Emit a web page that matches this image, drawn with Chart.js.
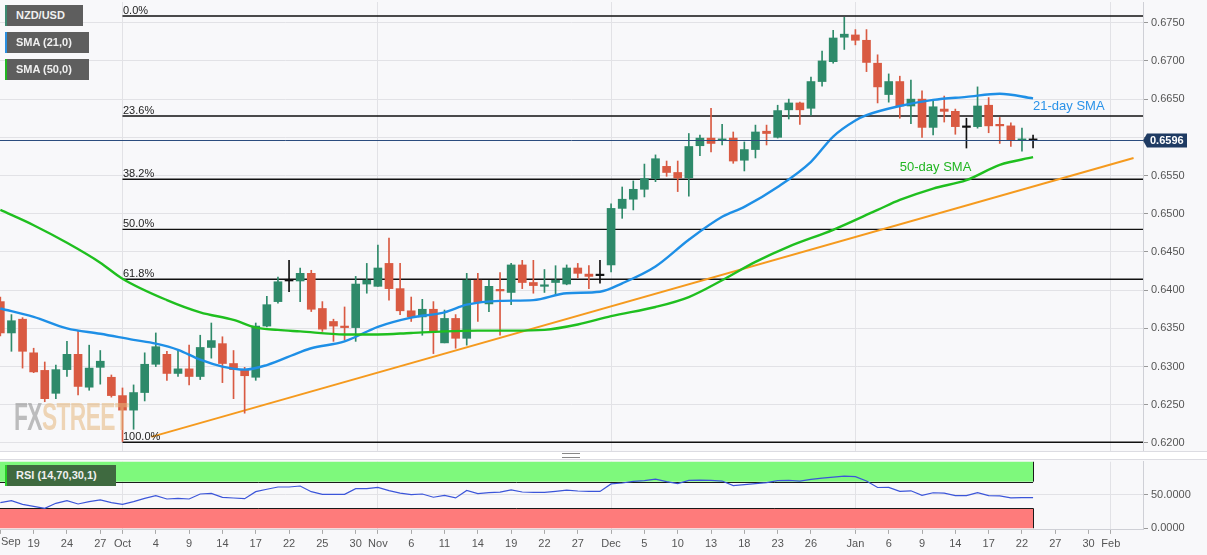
<!DOCTYPE html>
<html><head><meta charset="utf-8">
<script src="https://cdn.jsdelivr.net/npm/chart.js@4.4.1/dist/chart.umd.min.js"></script>
<style>
html,body{margin:0;padding:0;background:#f8f8fa;}
body{width:1207px;height:555px;position:relative;overflow:hidden;font-family:"Liberation Sans",Arial,sans-serif;}
canvas{position:absolute;left:0;}
#main{top:0;}
#rsi{top:455px;}
.tag{position:absolute;left:5px;height:21px;line-height:21px;background:#5e5e5e;color:#f0f0f0;font-weight:bold;font-size:11px;padding-left:9px;box-sizing:border-box;border-left:2px solid;white-space:nowrap;}
#gap{position:absolute;left:0;top:451px;width:1207px;height:9px;background:#ffffff;border-top:1px solid #dcdce2;border-bottom:1px solid #dcdce2;box-sizing:border-box;}
#grip{position:absolute;left:562px;top:453px;width:18px;height:5px;border-top:1px solid #888;border-bottom:1px solid #888;box-sizing:border-box;}
#fx{position:absolute;left:14px;top:396px;font-family:"Liberation Sans Narrow","Liberation Sans",Arial,sans-serif;font-weight:bold;font-size:38px;transform:scaleX(0.6);transform-origin:0 0;letter-spacing:-1px;opacity:0.55;}
</style></head><body>
<canvas id="main" width="1207" height="455" style="width:1207px;height:455px"></canvas>
<canvas id="rsi" width="1207" height="100" style="width:1207px;height:100px"></canvas>
<div id="gap"></div><div id="grip"></div>
<div id="fx"><span style="color:#8a8a8a">FX</span><span style="color:#e5b77c">STREET</span></div>
<div class="tag" style="top:5px;width:78px;border-color:#3d8a72">NZD/USD</div>
<div class="tag" style="top:32px;width:84px;border-color:#2a8fe0">SMA (21,0)</div>
<div class="tag" style="top:59px;width:84px;border-color:#22b622">SMA (50,0)</div>
<div class="tag" style="top:465px;width:111px;background:#3f6a40;border-color:#27d027">RSI (14,70,30,1)</div>
<script>
// ---------- DATA ----------
// x = trading-day index (0 = 19 Sep 2019); first candle = 16 Sep 2019
const candleStart = -3;
const openP  = [.6385,.6344,.6362,.6318,.6295,.6265,.6296,.6316,.6273,.6299,.6286,.6262,.6243,.6266,.6303,.6316,.6291,.6297,.6287,.6325,.6330,.6304,.6296,.6286,.6353,.6385,.6412,.6412,.6422,.6376,.6359,.6353,.6351,.6408,.6405,.6435,.6402,.6373,.6365,.6375,.6331,.6363,.6337,.6413,.6382,.6401,.6397,.6433,.6410,.6405,.6410,.6408,.6429,.6421,.6419,.6433,.6507,.6519,.6532,.6546,.6562,.6554,.6547,.6589,.6599,.6596,.6599,.6570,.6584,.6608,.6600,.6636,.6645,.6638,.6673,.6699,.6731,.6734,.6727,.6697,.6656,.6673,.6641,.6650,.6613,.6637,.6634,.6613,.6614,.6642,.6617,.6615,.6596,.6596];
const highP  = [.6391,.6368,.6364,.6324,.6306,.6302,.6333,.6346,.6328,.6321,.6289,.6272,.6276,.6318,.6344,.6320,.6322,.6328,.6341,.6357,.6339,.6321,.6299,.6357,.6392,.6417,.6439,.6429,.6426,.6385,.6362,.6378,.6418,.6435,.6459,.6468,.6435,.6391,.6388,.6385,.6374,.6368,.6422,.6422,.6413,.6423,.6435,.6439,.6439,.6427,.6432,.6433,.6435,.6432,.6439,.6513,.6535,.6543,.6565,.6577,.6569,.6569,.6605,.6603,.6638,.6617,.6607,.6594,.6616,.6616,.6642,.6650,.6646,.6679,.6713,.6740,.6757,.6741,.6741,.6708,.6683,.6680,.6675,.6661,.6647,.6654,.6637,.6625,.6666,.6652,.6626,.6619,.6612,.6603];
const lowP   = [.6340,.6320,.6298,.6292,.6254,.6258,.6287,.6263,.6269,.6277,.6260,.6202,.6218,.6255,.6300,.6282,.6287,.6276,.6283,.6311,.6279,.6258,.6239,.6282,.6352,.6383,.6398,.6385,.6372,.6346,.6333,.6335,.6333,.6396,.6405,.6387,.6368,.6359,.6341,.6317,.6331,.6324,.6328,.6359,.6372,.6341,.6381,.6402,.6396,.6397,.6394,.6407,.6416,.6402,.6409,.6424,.6494,.6505,.6522,.6542,.6549,.6529,.6523,.6576,.6581,.6590,.6566,.6556,.6573,.6590,.6599,.6624,.6617,.6629,.6667,.6697,.6715,.6721,.6686,.6645,.6646,.6625,.6618,.6600,.6603,.6620,.6604,.6586,.6612,.6606,.6592,.6588,.6582,.6586];
const closeP = [.6344,.6360,.6320,.6293,.6258,.6296,.6316,.6274,.6298,.6307,.6262,.6243,.6266,.6303,.6326,.6291,.6297,.6287,.6325,.6334,.6304,.6296,.6288,.6353,.6381,.6411,.6412,.6422,.6375,.6349,.6353,.6351,.6408,.6413,.6429,.6402,.6373,.6365,.6375,.6346,.6363,.6337,.6413,.6384,.6405,.6399,.6433,.6410,.6406,.6407,.6413,.6429,.6422,.6418,.6419,.6507,.6519,.6532,.6546,.6572,.6554,.6547,.6588,.6599,.6592,.6597,.6569,.6584,.6607,.6605,.6635,.6645,.6636,.6673,.6700,.6730,.6735,.6727,.6698,.6666,.6673,.6641,.6650,.6613,.6640,.6634,.6614,.6613,.6641,.6615,.6615,.6596,.6597,.6596];

const sma21X = [-3,0,3,6,9,11,13,15,17,19,21,24,25,28,31,34,37,39,42,45,48,51,53,56,59,62,64,67,70,72,74,75,78,81,84,87,90];
const sma21Y = [.6376,.6365,.6350,.6343,.6335,.6330,.6322,.6309,.6300,.6296,.6302,.6319,.6324,.6333,.6352,.6364,.6371,.6381,.6386,.6387,.6396,.6398,.6409,.6431,.6466,.6496,.6509,.6535,.6568,.6601,.6622,.6629,.6641,.6649,.6653,.6657,.6651];
const sma50X = [-3,0,3,6,8,12,15,18,20,22,24,28,31,34,37,40,43,46,49,52,56,59,62,65,68,72,76,78,81,84,87,90];
const sma50Y = [.6505,.6485,.6462,.6436,.6415,.6387,.6371,.6361,.6351,.6348,.6346,.6342,.6342,.6344,.6346,.6347,.6347,.6348,.6355,.6366,.6378,.6391,.6413,.6437,.6457,.6479,.6505,.6518,.6533,.6544,.6564,.6574];

const trendX = [10.6, 99.05];
const trendY = [0.6208, 0.6573];

const fibLabels = ['0.0%','23.6%','38.2%','50.0%','61.8%','100.0%'];
const fibLevels = [0.67588,0.66279,0.65451,0.64796,0.64142,0.62009];
const fibStart = 8;

const lastPrice = 0.6596;

const rsiVals = [38.4,41.4,36,33,30,37.5,41.4,36.5,40,42.5,38.4,36,40,45,49,44,45,44,51.5,52.5,46.5,45.5,44.5,55,58.6,62,62,63.5,55,51,51,51,59.5,59.5,61.5,56.5,52.9,50.5,51.5,46.6,49.5,45.6,56.8,52,53.5,54.4,57.8,54.5,53.9,53.9,55.5,57.3,56,55.4,55.4,66.6,68,70.5,71.5,73.9,70,67,72,72.3,72,71,64.1,65.5,67,68.5,71.5,72,71,73.5,75.5,76.8,78.3,77.5,71,61.3,61.5,55.4,56.3,49.5,53.4,52.9,49,49,53.4,49,48.7,45.6,46.1,46.1];
const rsiUpper = 70, rsiLower = 30;

const priceTicks = [0.6200,0.6250,0.6300,0.6350,0.6400,0.6450,0.6500,0.6550,0.6600,0.6650,0.6700,0.6750];
const rsiTicks = [0, 50];
const tickPos  = [-3,0,3,6,8,11,14,17,20,23,26,29,31,34,37,40,43,46,49,52,55,58,61,64,67,70,74,77,80,83,86,89,92,95,97];
const tickText = ['Sep','19','24','27','Oct','4','9','14','17','22','25','30','Nov','6','11','14','19','22','27','Dec','5','10','13','18','23','26','Jan','6','9','14','17','22','27','30','Feb'];
const monthPos = [8,31,52,74,97];

// ---------- VIEW ----------
const X_MIN = -3.03, X_MAX = 99.9;
const GREEN = '#2e8a6a', RED = '#d95a42', DOJI = '#111111';
const FONT = '"Liberation Sans", Arial, sans-serif';
Chart.defaults.font.family = FONT;
Chart.defaults.font.size = 11;
Chart.defaults.color = '#555';

const idx = openP.map((_, k) => candleStart + k);
const cColor = idx.map((_, k) => closeP[k] > openP[k] ? GREEN : (closeP[k] < openP[k] ? RED : DOJI));

const fibDatasets = fibLevels.map(v => ({
  type: 'line', data: [{x: fibStart, y: v}, {x: X_MAX, y: v}],
  borderColor: '#111', borderWidth: 1.4, pointRadius: 0, order: 5
}));

const mainOverlay = {
  id: 'mainOverlay',
  afterDatasetsDraw(chart) {
    const {ctx, chartArea: a, scales: {x, y}} = chart;
    ctx.save();
    ctx.font = '11px ' + FONT; ctx.fillStyle = '#222'; ctx.textAlign = 'left'; ctx.textBaseline = 'alphabetic';
    fibLevels.forEach((v, i) => ctx.fillText(fibLabels[i], x.getPixelForValue(fibStart) + 0.5, y.getPixelForValue(v) - 2));
    const py = Math.round(y.getPixelForValue(lastPrice)) + 0.5;
    ctx.strokeStyle = '#2b4c7e'; ctx.lineWidth = 1;
    ctx.beginPath(); ctx.moveTo(a.left, py); ctx.lineTo(a.right, py); ctx.stroke();
    ctx.font = '13px ' + FONT;
    ctx.fillStyle = '#2a92e8';
    ctx.fillText('21-day SMA', x.getPixelForValue(90), y.getPixelForValue(0.6636));
    ctx.fillStyle = '#22b622';
    ctx.fillText('50-day SMA', x.getPixelForValue(78), y.getPixelForValue(0.6556));
    ctx.restore();
  },
  afterDraw(chart) {
    const {ctx, chartArea: a, scales: {y}} = chart;
    const py = y.getPixelForValue(lastPrice);
    ctx.save();
    ctx.fillStyle = '#1f3b63';
    ctx.beginPath();
    ctx.moveTo(a.right, py);
    ctx.lineTo(a.right + 4, py - 7);
    ctx.lineTo(a.right + 44, py - 7);
    ctx.lineTo(a.right + 44, py + 7);
    ctx.lineTo(a.right + 4, py + 7);
    ctx.closePath(); ctx.fill();
    ctx.font = 'bold 11px ' + FONT; ctx.fillStyle = '#fff'; ctx.textAlign = 'left'; ctx.textBaseline = 'middle';
    ctx.fillText(lastPrice.toFixed(4), a.right + 7, py + 0.5);
    ctx.restore();
  }
};

new Chart(document.getElementById('main'), {
  type: 'bar',
  data: {
    datasets: [
      ...fibDatasets,
      {type: 'line', data: trendX.map((v, k) => ({x: v, y: trendY[k]})), borderColor: '#f59a1e', borderWidth: 2, pointRadius: 0, order: 4},
      {type: 'bar', data: idx.map((v, k) => ({x: v, y: [lowP[k], highP[k]]})), backgroundColor: cColor, barThickness: 1, grouped: false, borderWidth: 0, order: 3},
      {type: 'bar', data: idx.map((v, k) => ({x: v, y: [openP[k], closeP[k]]})), backgroundColor: cColor, barThickness: 8, minBarLength: 1.5, grouped: false, borderWidth: 0, order: 2},
      {type: 'line', data: sma50X.map((v, k) => ({x: v, y: sma50Y[k]})), borderColor: '#1fbf1f', borderWidth: 2.4, pointRadius: 0, cubicInterpolationMode: 'monotone', order: 1},
      {type: 'line', data: sma21X.map((v, k) => ({x: v, y: sma21Y[k]})), borderColor: '#1e8fe6', borderWidth: 2.4, pointRadius: 0, cubicInterpolationMode: 'monotone', order: 1}
    ]
  },
  options: {
    responsive: false, animation: false, events: [],
    layout: {padding: {top: 2, left: 0, right: 0, bottom: 0}},
    plugins: {legend: {display: false}, tooltip: {enabled: false}},
    scales: {
      x: {
        type: 'linear', min: X_MIN, max: X_MAX, offset: false,
        afterBuildTicks: s => { s.ticks = monthPos.map(v => ({value: v})); },
        afterFit: s => { s.height = 3; s.paddingLeft = 0; s.paddingRight = 0; },
        ticks: {display: false},
        grid: {color: '#e2e2e6', drawTicks: false, offset: false},
        border: {display: false}
      },
      y: {
        type: 'linear', position: 'right', min: 0.61882, max: 0.67771,
        afterBuildTicks: s => { s.ticks = priceTicks.map(v => ({value: v})); },
        afterFit: s => { s.width = 64; s.paddingTop = 0; s.paddingBottom = 0; },
        ticks: {callback: v => Math.abs(v - lastPrice) < 0.0012 ? '' : Number(v).toFixed(4), padding: 3, color: '#555', font: {size: 11}},
        grid: {color: '#e2e2e6', tickColor: '#999', tickLength: 5},
        border: {color: '#cfd0d6'}
      }
    }
  },
  plugins: [mainOverlay]
});

const rsiOverlay = {
  id: 'rsiOverlay',
  beforeDatasetsDraw(chart) {
    const {ctx, chartArea: a, scales: {x, y}} = chart;
    const xr = x.getPixelForValue(idx[idx.length - 1]);
    const y100 = y.getPixelForValue(100), y70 = y.getPixelForValue(rsiUpper), y30 = y.getPixelForValue(rsiLower), y0 = y.getPixelForValue(0);
    ctx.save();
    ctx.fillStyle = '#7ef97c';
    ctx.fillRect(a.left, y100, xr - a.left, y70 - y100);
    ctx.fillStyle = '#fe7b7b';
    ctx.fillRect(a.left, y30, xr - a.left, y0 - y30);
    ctx.strokeStyle = '#1a1a1a'; ctx.lineWidth = 1;
    ctx.beginPath();
    ctx.moveTo(a.left, Math.round(y70) + 0.5); ctx.lineTo(xr, Math.round(y70) + 0.5);
    ctx.moveTo(a.left, Math.round(y30) + 0.5); ctx.lineTo(xr, Math.round(y30) + 0.5);
    ctx.moveTo(Math.round(xr) + 0.5, y100); ctx.lineTo(Math.round(xr) + 0.5, y70);
    ctx.moveTo(Math.round(xr) + 0.5, y30); ctx.lineTo(Math.round(xr) + 0.5, y0);
    ctx.stroke();
    ctx.restore();
  },
  afterDraw(chart) {
    const {ctx, chartArea: a, scales: {x}} = chart;
    ctx.save();
    ctx.font = '11px ' + FONT; ctx.fillStyle = '#555'; ctx.textAlign = 'left'; ctx.textBaseline = 'top';
    ctx.fillText(tickText[0], a.left + 1, x.top + 4 + 3);
    ctx.restore();
  }
};

new Chart(document.getElementById('rsi'), {
  type: 'line',
  data: {
    datasets: [
      {data: idx.map((v, k) => ({x: v, y: rsiVals[k]})), borderColor: '#3b55d9', borderWidth: 1.2, pointRadius: 0, tension: 0}
    ]
  },
  options: {
    responsive: false, animation: false, events: [],
    layout: {padding: {top: 6.75, left: 0, right: 0, bottom: 0}},
    plugins: {legend: {display: false}, tooltip: {enabled: false}},
    scales: {
      x: {
        type: 'linear', min: X_MIN, max: X_MAX, offset: false,
        afterBuildTicks: s => { s.ticks = tickPos.map(v => ({value: v})); },
        afterFit: s => { s.height = 25.1; s.paddingLeft = 0; s.paddingRight = 0; },
        ticks: {autoSkip: false, maxRotation: 0, minRotation: 0, padding: 3, color: '#555', font: {size: 11},
                callback: (v) => { const i = tickPos.indexOf(v); return i <= 0 ? '' : tickText[i]; }},
        grid: {color: c => (c.tick && monthPos.includes(c.tick.value)) ? '#e2e2e6' : 'rgba(0,0,0,0)', tickColor: '#aaa', tickLength: 4, offset: false},
        border: {color: '#cfd0d6'}
      },
      y: {
        type: 'linear', position: 'right', min: -2.5, max: 100,
        afterBuildTicks: s => { s.ticks = rsiTicks.map(v => ({value: v})); },
        afterFit: s => { s.width = 64; s.paddingTop = 0; s.paddingBottom = 0; },
        ticks: {callback: v => Number(v).toFixed(4), padding: 3, color: '#555', font: {size: 11}},
        grid: {color: c => (c.tick && c.tick.value === 50) ? '#e2e2e6' : 'rgba(0,0,0,0)', tickColor: '#999', tickLength: 5},
        border: {color: '#cfd0d6'}
      }
    }
  },
  plugins: [rsiOverlay]
});
</script>
</body></html>
